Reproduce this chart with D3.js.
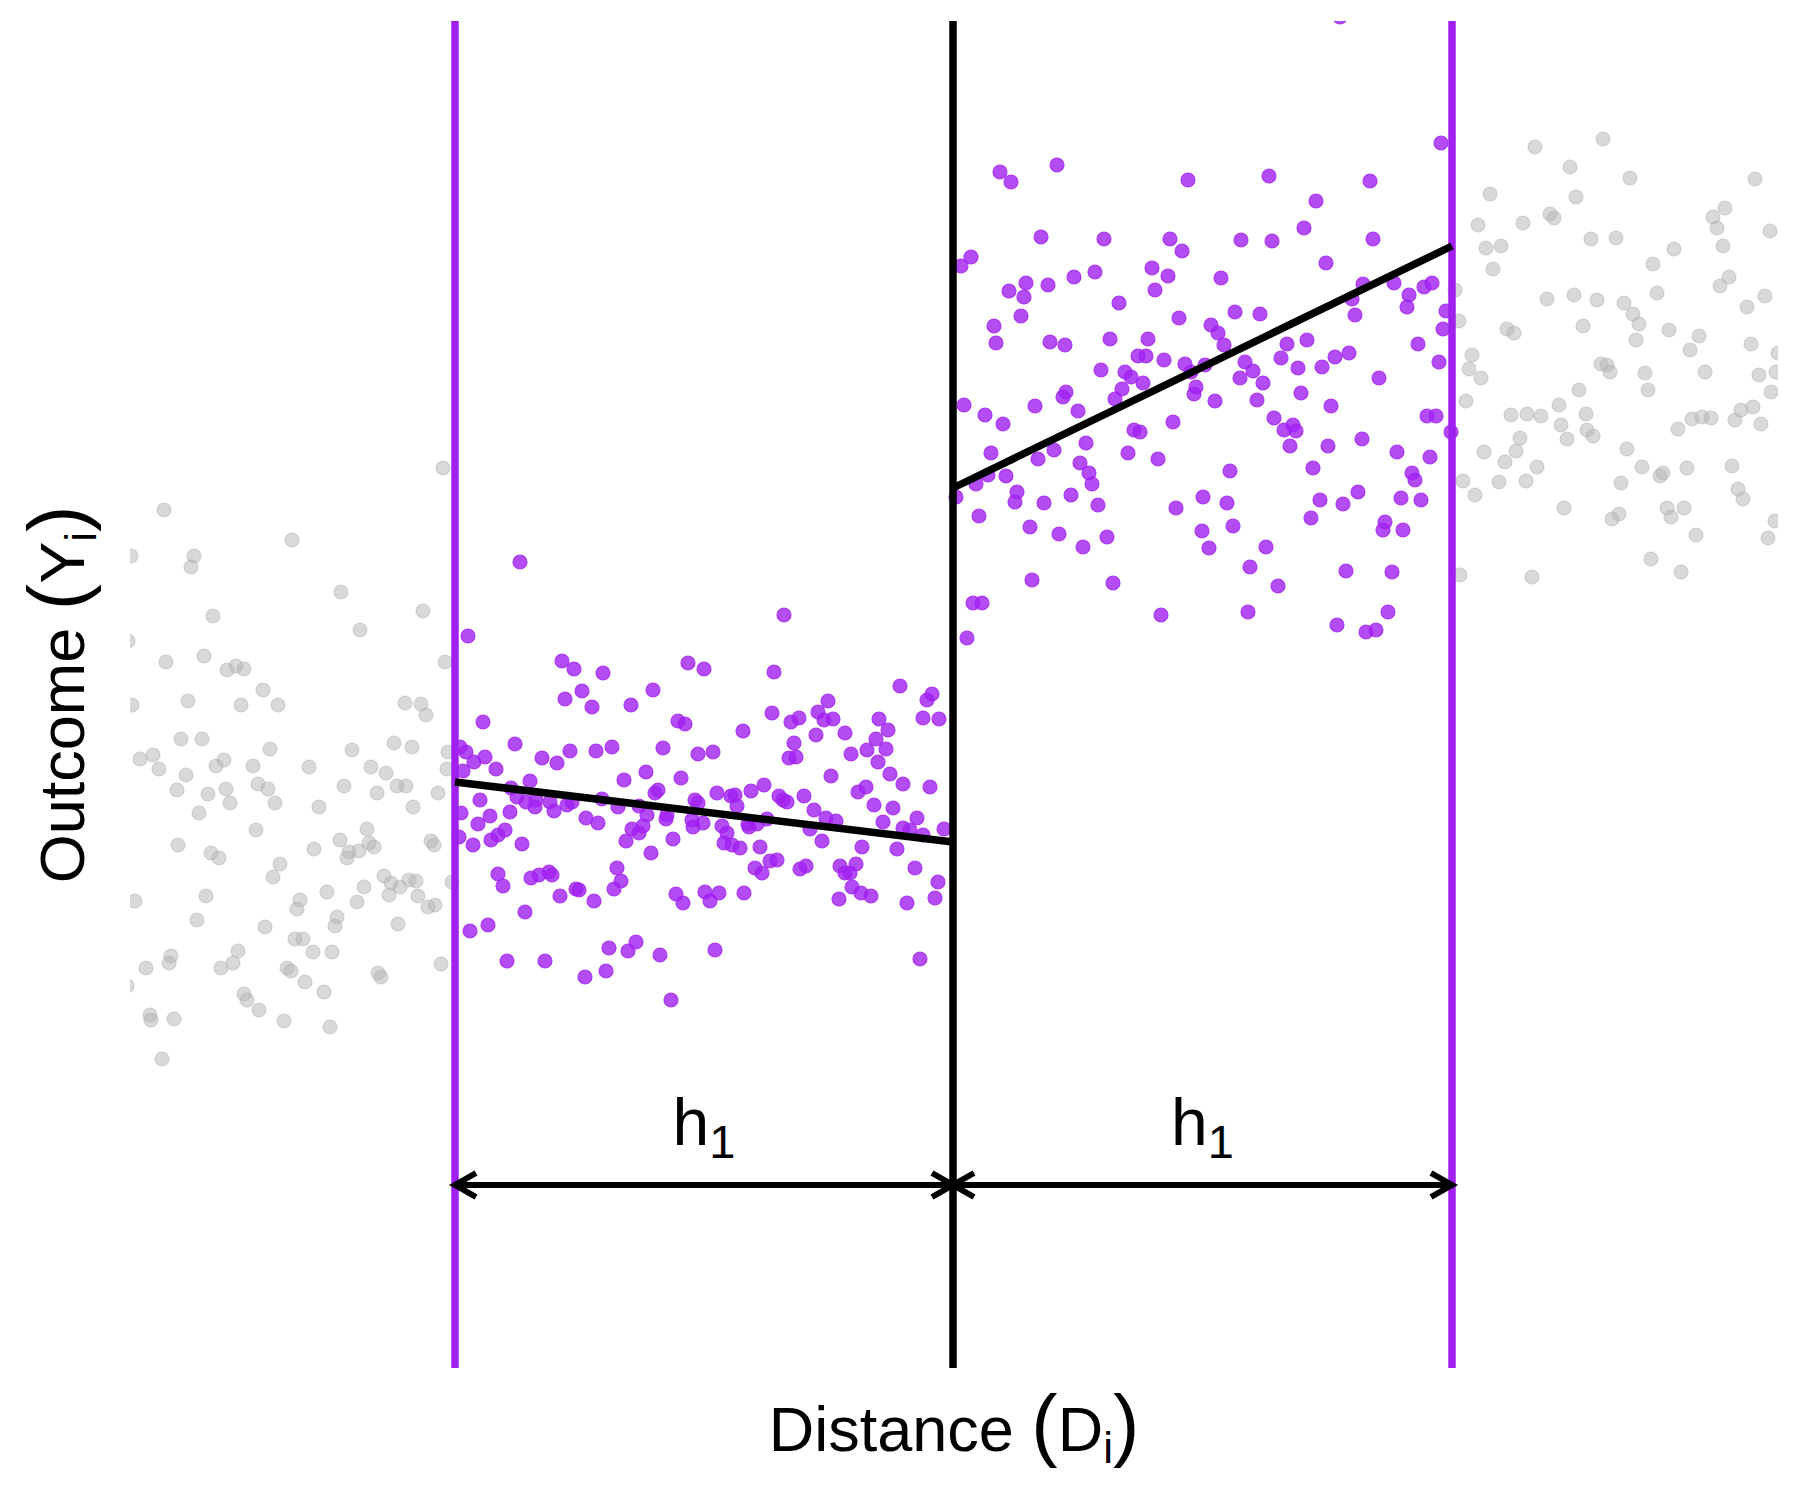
<!DOCTYPE html>
<html>
<head>
<meta charset="utf-8">
<script src="https://cdn.jsdelivr.net/npm/d3@7"></script>
<style>
  body { margin: 0; background: #fff; }
  text { font-family: Arial, "Liberation Sans", sans-serif; fill: #000; }
</style>
</head>
<body>
<svg width="1800" height="1500"></svg>
<script>
// distance from cutoff, outcome
const grayLeft = [[-510,902],[-789,860],[-822,814],[-759,814],[-762,803],[-661,830],[-612,778],[-530,759],[-593,740],[-740,754],
  [-825,729],[-787,708],[-749,714],[-726,700],[-717,704],[-709,701],[-690,680],[-508,708],[-821,665],[-765,669],
  [-712,665],[-675,665],[-548,667],[-532,666],[-527,655],[-772,631],[-751,631],[-813,611],[-800,615],[-794,601],
  [-767,595],[-737,604],[-729,610],[-700,604],[-683,621],[-644,603],[-601,620],[-559,627],[-541,623],[-505,618],
  [-506,601],[-582,603],[-567,597],[-556,584],[-547,584],[-515,577],[-576,577],[-609,584],[-776,580],[-745,576],
  [-727,581],[-723,567],[-695,586],[-685,581],[-678,567],[-634,563],[-540,563],[-754,557],[-697,540],[-775,525],
  [-742,517],[-734,512],[-673,506],[-680,493],[-639,521],[-613,530],[-604,518],[-606,512],[-594,519],[-586,541],
  [-584,527],[-579,523],[-522,529],[-519,525],[-501,488],[-569,494],[-562,487],[-553,483],[-544,490],[-537,489],
  [-564,475],[-535,474],[-525,463],[-518,465],[-589,483],[-596,468],[-626,478],[-653,470],[-656,461],[-616,453],
  [-618,444],[-555,446],[-688,443],[-747,474],[-756,450],[-818,469],[-658,431],[-650,431],[-640,418],[-621,418],
  [-715,419],[-720,407],[-732,402],[-782,414],[-784,407],[-807,402],[-826,384],[-666,402],[-662,399],[-648,388],
  [-629,378],[-709,376],[-706,370],[-694,360],[-669,349],[-623,343],[-575,397],[-572,393],[-512,406],[-803,355],
  [-802,350],[-779,351],[-791,311]];

const purpleLeft = [[-433,808],[-485,734],[-391,709],[-379,701],[-350,697],[-371,679],[-388,671],[-361,663],[-322,665],[-300,680],
  [-265,707],[-249,701],[-470,648],[-275,649],[-268,646],[-438,626],[-493,623],[-487,618],[-468,613],[-479,608],
  [-490,599],[-457,601],[-411,612],[-396,607],[-383,619],[-357,619],[-341,623],[-290,622],[-255,616],[-307,598],
  [-329,590],[-272,592],[-423,589],[-442,582],[-436,573],[-427,568],[-417,570],[-418,563],[-403,568],[-399,559],
  [-386,565],[-381,568],[-351,571],[-335,563],[-314,564],[-306,555],[-298,577],[-295,580],[-287,551],[-286,555],
  [-258,570],[-255,567],[-473,570],[-492,557],[-463,554],[-443,558],[-475,546],[-367,552],[-355,547],[-494,533],
  [-480,525],[-462,530],[-455,535],[-448,540],[-431,526],[-321,541],[-314,537],[-310,544],[-327,529],[-280,531],
  [-302,517],[-261,550],[-260,543],[-250,547],[-455,496],[-450,484],[-422,492],[-414,495],[-404,498],[-401,495],
  [-336,502],[-332,489],[-339,481],[-393,474],[-377,481],[-374,480],[-359,469],[-277,476],[-270,467],[-248,478],
  [-428,458],[-483,439],[-465,445],[-446,409],[-408,409],[-368,393],[-347,399],[-344,422],[-325,419],[-317,428],
  [-293,415],[-282,370],
  [-169,755],[-179,698],[-53,684],[-26,670],[-21,676],[-181,657],[-210,639],[-162,648],[-154,652],[-135,658],
  [-125,669],[-129,650],[-120,651],[-137,635],[-108,637],[-74,651],[-65,640],[-30,652],[-14,651],[-240,618],
  [-159,627],[-164,612],[-157,613],[-102,616],[-77,631],[-86,620],[-67,621],[-75,608],[-122,594],[-63,596],
  [-50,586],[-23,583],[-95,578],[-87,583],[-79,565],[-60,562],[-236,577],[-222,574],[-218,575],[-216,564],
  [-202,579],[-189,585],[-174,574],[-170,570],[-166,568],[-149,574],[-139,560],[-127,552],[-117,549],[-186,551],
  [-205,546],[-204,543],[-196,546],[-231,544],[-226,537],[-229,527],[-221,525],[-213,522],[-193,523],[-143,541],
  [-131,529],[-70,548],[-50,542],[-36,552],[-43,540],[-30,535],[-9,541],[-56,521],[-91,523],[-198,502],
  [-191,497],[-183,509],[-176,510],[-153,501],[-147,504],[-113,504],[-108,497],[-103,497],[-97,506],[-101,483],
  [-92,477],[-82,474],[-114,471],[-38,502],[-15,488],[-18,472],[-46,467],[-234,477],[-243,469],[-209,477],
  [-238,420],[-33,411]];

const purpleRight = [[47,1198],[58,1188],[104,1205],[235,1190],[88,1133],[151,1131],[217,1131],[229,1119],[18,1113],[8,1104],
  [56,1079],[73,1087],[71,1073],[95,1085],[121,1093],[142,1098],[199,1102],[215,1094],[202,1080],[166,1067],
  [68,1054],[41,1044],[43,1027],[97,1028],[112,1025],[157,1031],[195,1031],[226,1052],[185,1014],[193,1014],
  [211,1010],[232,1006],[148,1000],[172,998],[178,993],[190,987],[169,981],[162,971],[238,998],[243,983],
  [241,976],[113,978],[110,973],[125,959],[82,964],[11,965],[32,955],[50,946],[220,948],[181,940],
  [187,938],[133,927],[38,917],[101,920],[85,911],[175,917],[205,911],[127,907],[136,897],[139,886],
  [35,895],[53,894],[23,886],[64,878],[62,868],[3,873],[91,867],[118,875],[145,865],[223,862],
  [26,854],[77,843],[106,836],[130,823],[154,833],[79,790],[160,787],[20,767],[29,767],[208,755],[14,732],
  [387,1353],[488,1227],[316,1194],[417,1189],[363,1169],[351,1142],[288,1130],[319,1129],[420,1131],[373,1107],
  [268,1092],[410,1086],[441,1087],[456,1075],[471,1083],[479,1087],[454,1063],[399,1071],[402,1055],[282,1058],
  [307,1056],[258,1045],[265,1037],[271,1025],[493,1059],[490,1041],[465,1026],[486,1008],[334,1026],[354,1030],
  [328,1012],[345,1002],[369,1003],[382,1013],[396,1017],[426,992],[252,1005],[292,1008],[300,999],[287,992],
  [310,987],[304,970],[262,969],[348,977],[378,964],[321,952],[331,940],[340,945],[343,939],[337,924],
  [375,924],[409,931],[474,954],[483,954],[498,938],[444,918],[477,913],[459,897],[462,890],[360,902],
  [277,899],[250,873],[274,867],[367,870],[390,866],[405,878],[448,872],[468,870],[358,852],[432,848],
  [430,840],[450,840],[249,839],[280,844],[256,822],[313,823],[297,803],[325,784],[393,799],[439,798],
  [295,758],[384,745],[413,738],[423,740],[435,758]];

const grayRight = [[582,1223],[650,1231],[617,1203],[677,1192],[802,1191],[537,1176],[623,1173],[525,1145],[570,1147],[597,1156],
  [601,1152],[638,1131],[663,1132],[533,1122],[548,1124],[540,1101],[721,1121],[700,1106],[760,1153],[772,1162],
  [764,1142],[770,1124],[817,1139],[776,1093],[767,1084],[502,1080],[594,1071],[621,1075],[644,1070],[671,1067],
  [680,1056],[686,1046],[704,1077],[683,1030],[716,1040],[746,1034],[737,1020],[794,1063],[812,1074],[798,1026],
  [506,1049],[554,1041],[561,1037],[630,1044],[519,1015],[516,1001],[528,992],[648,1006],[654,1005],[657,998],
  [692,997],[695,980],[752,998],[806,995],[823,998],[825,1017],[818,978],[513,969],[626,980],[558,955],
  [574,956],[588,954],[606,965],[633,956],[608,945],[634,940],[640,934],[614,931],[567,932],[563,919],
  [531,918],[552,908],[584,903],[510,889],[522,875],[546,888],[573,889],[674,921],[689,903],[710,897],
  [707,894],[734,902],[668,887],[725,941],[739,951],[749,953],[758,952],[782,950],[788,960],[800,963],
  [808,946],[779,904],[785,881],[790,871],[611,862],[666,856],[659,851],[714,862],[731,862],[718,853],
  [743,835],[822,849],[815,832],[698,811],[728,798],[507,795],[579,793]];

// local linear fits on each side of the cutoff
const fitLeft = [[-498,588],[0,528]];
const fitRight = [[0,882],[499,1124]];

const cutoff = 0;
const bandwidth = [-498, 499];
const arrowLevel = 185;
const bandLabel = "h";
const bandSub = "1";

const xLimits = [-823, 825];
const yLimits = [2, 1349];

const panel = { left: 130, right: 1778, top: 21, bottom: 1368 };

const svg = d3.select("svg");
svg.append("rect").attr("width", 1800).attr("height", 1500).attr("fill", "#fff");

const x = d3.scaleLinear().domain(xLimits).range([panel.left, panel.right]);
const y = d3.scaleLinear().domain(yLimits).range([panel.bottom, panel.top]);

svg.append("clipPath").attr("id", "panel-clip")
   .append("rect")
   .attr("x", panel.left).attr("y", panel.top)
   .attr("width", panel.right - panel.left)
   .attr("height", panel.bottom - panel.top);

const plot = svg.append("g").attr("clip-path", "url(#panel-clip)");

const purple = "#A020F0";

function drawPoints(data, color, alpha) {
  plot.append("g")
      .selectAll("circle")
      .data(data)
      .enter()
      .append("circle")
      .attr("cx", d => x(d[0]))
      .attr("cy", d => y(d[1]))
      .attr("r", 7)
      .attr("fill", color)
      .attr("fill-opacity", alpha)
      .attr("stroke", color)
      .attr("stroke-opacity", alpha)
      .attr("stroke-width", 1.2);
}

drawPoints(grayLeft, "#b3b3b3", 0.5);
drawPoints(grayRight, "#b3b3b3", 0.5);
drawPoints(purpleLeft, purple, 0.8);
drawPoints(purpleRight, purple, 0.8);

// bandwidth limits and cutoff
bandwidth.forEach(b => {
  plot.append("line")
      .attr("x1", x(b)).attr("x2", x(b))
      .attr("y1", panel.top).attr("y2", panel.bottom)
      .attr("stroke", purple)
      .attr("stroke-width", 7.5);
});

plot.append("line")
    .attr("x1", x(cutoff)).attr("x2", x(cutoff))
    .attr("y1", panel.top).attr("y2", panel.bottom)
    .attr("stroke", "#000")
    .attr("stroke-width", 7.5);

const line = d3.line().x(d => x(d[0])).y(d => y(d[1]));

[fitLeft, fitRight].forEach(f => {
  plot.append("path")
      .attr("d", line(f))
      .attr("fill", "none")
      .attr("stroke", "#000")
      .attr("stroke-width", 7.5);
});

// double headed arrows showing the bandwidth
function arrow(a, b) {
  const xa = x(a), xb = x(b), yy = y(arrowLevel);
  const len = 21, half = 12;
  return `M${xa},${yy}L${xb},${yy}` +
         `M${xa + len},${yy - half}L${xa},${yy}L${xa + len},${yy + half}` +
         `M${xb - len},${yy - half}L${xb},${yy}L${xb - len},${yy + half}`;
}

[[bandwidth[0], cutoff], [cutoff, bandwidth[1]]].forEach(seg => {
  svg.append("path")
     .attr("d", arrow(seg[0], seg[1]))
     .attr("fill", "none")
     .attr("stroke", "#000")
     .attr("stroke-width", 6)
     .attr("stroke-linejoin", "miter");

  const label = svg.append("text")
     .attr("x", x((seg[0] + seg[1]) / 2))
     .attr("y", 1145)
     .style("text-anchor", "middle");
  label.append("tspan").style("font-size", "66px").text(bandLabel);
  label.append("tspan").style("font-size", "47px").attr("dy", 13).text(bandSub);
});

// axis titles
function mathTitle(sel, word, sym, sub) {
  sel.append("tspan").style("font-size", "63px").text(word + " ");
  sel.append("tspan").style("font-size", "79px").text("(");
  sel.append("tspan").style("font-size", "63px").text(sym);
  sel.append("tspan").style("font-size", "44px").attr("dy", 12).text(sub);
  sel.append("tspan").style("font-size", "79px").attr("dy", -12).text(")");
}

const xTitle = svg.append("text")
   .attr("x", (panel.left + panel.right) / 2)
   .attr("y", 1451)
   .style("text-anchor", "middle");
mathTitle(xTitle, "Distance", "D", "i");

const yTitle = svg.append("text")
   .attr("transform", `translate(84, ${(panel.top + panel.bottom) / 2}) rotate(-90)`)
   .style("text-anchor", "middle");
mathTitle(yTitle, "Outcome", "Y", "i");
</script>
</body>
</html>
